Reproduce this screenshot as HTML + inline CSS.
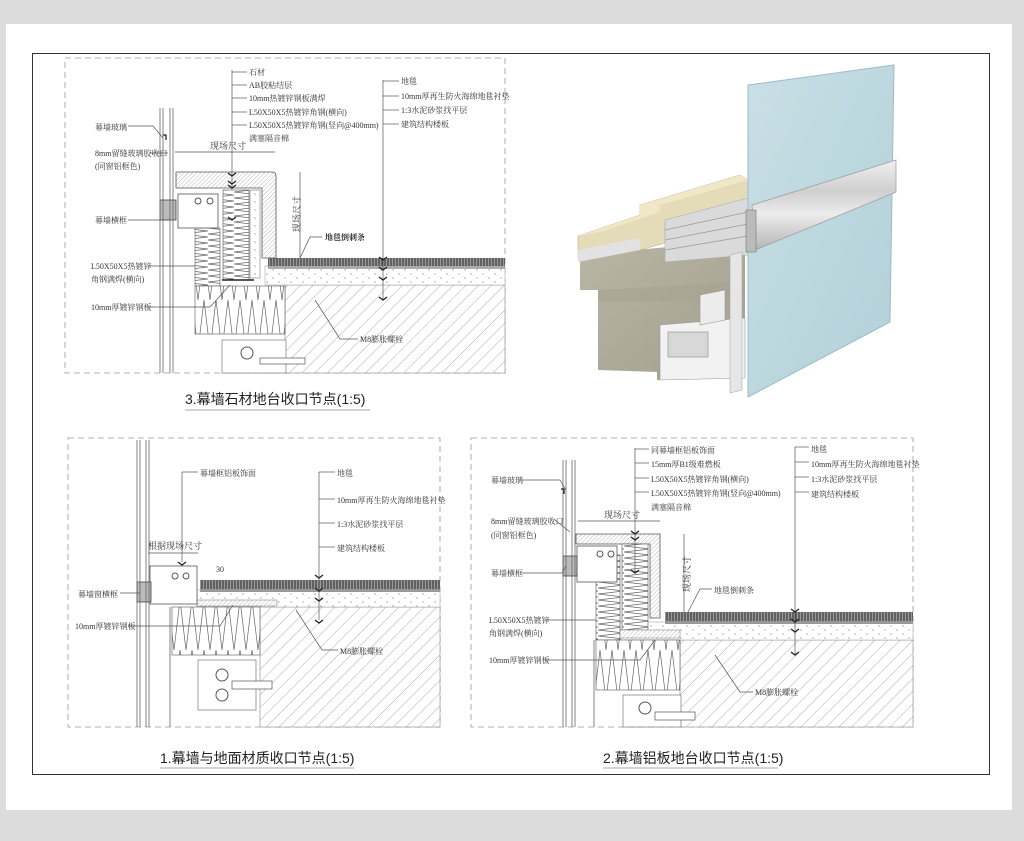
<!DOCTYPE html>
<html><head><meta charset="utf-8"><style>
html,body{margin:0;padding:0;background:#dcdcdc;width:1024px;height:841px;overflow:hidden}
svg{display:block}
text{font-family:"Liberation Serif","Noto Serif CJK SC","Noto Sans CJK SC",serif;fill:#333}
.s{font-size:8px}
.t{font-family:"Liberation Sans","Noto Sans CJK SC",sans-serif;font-size:14px;fill:#222}
</style></head><body>
<svg width="1024" height="841" viewBox="0 0 1024 841" xmlns="http://www.w3.org/2000/svg">
<defs>
<pattern id="hatch" width="9" height="9" patternUnits="userSpaceOnUse" patternTransform="rotate(45)"><rect width="9" height="9" fill="#fff"/><line x1="0" y1="0" x2="0" y2="9" stroke="#999" stroke-width="0.8"/></pattern>
<pattern id="fine" width="3" height="3" patternUnits="userSpaceOnUse" patternTransform="rotate(45)"><rect width="3" height="3" fill="#fff"/><line x1="0" y1="0" x2="0" y2="3" stroke="#888" stroke-width="0.6"/></pattern>
<pattern id="carpet" width="3" height="8" patternUnits="userSpaceOnUse"><rect width="3" height="8" fill="#999"/><line x1="1" y1="0" x2="1" y2="8" stroke="#333" stroke-width="1.1"/></pattern>
<pattern id="dots" width="12" height="8" patternUnits="userSpaceOnUse"><rect width="12" height="8" fill="#fff"/><circle cx="3" cy="2" r="0.6" fill="#777"/><circle cx="9" cy="6" r="0.6" fill="#777"/></pattern>
<pattern id="zig" width="26" height="6" patternUnits="userSpaceOnUse"><rect width="26" height="6" fill="#fff"/><polyline points="0,0 26,3 0,6" fill="none" stroke="#666" stroke-width="0.7"/></pattern>
<pattern id="zigv" width="12" height="50" patternUnits="userSpaceOnUse"><rect width="12" height="50" fill="#fff"/><polyline points="0,0 6,50 12,0" fill="none" stroke="#666" stroke-width="0.7"/></pattern>
<linearGradient id="glass" x1="0" y1="0" x2="1" y2="1"><stop offset="0" stop-color="#c8dfe5"/><stop offset="1" stop-color="#b2d0d8"/></linearGradient>
<linearGradient id="bar" x1="0" y1="0" x2="0" y2="1"><stop offset="0" stop-color="#f0f0f0"/><stop offset="0.35" stop-color="#cfcfcf"/><stop offset="0.6" stop-color="#ececec"/><stop offset="1" stop-color="#b4b4b4"/></linearGradient>
<linearGradient id="conc" x1="0" y1="0" x2="1" y2="1"><stop offset="0" stop-color="#b9b6a6"/><stop offset="1" stop-color="#a29f8e"/></linearGradient>
</defs>
<rect x="6" y="24" width="1006" height="786" fill="#fff"/>
<rect x="32.5" y="53.5" width="957" height="721" fill="none" stroke="#333" stroke-width="1"/>

<!-- ============ SECTION 3 ============ -->
<g stroke="#999" fill="none" stroke-dasharray="6,4" stroke-width="0.8"><rect x="65" y="58" width="440" height="315"/></g>
<rect x="285" y="285" width="220" height="88" fill="url(#hatch)" stroke="#888" stroke-width="0.6"/>
<rect x="265" y="266" width="240" height="19" fill="url(#dots)" stroke="#999" stroke-width="0.5"/>
<rect x="268" y="258" width="237" height="8" fill="url(#carpet)"/>
<rect x="268" y="266" width="237" height="3" fill="#aaa"/>
<path d="M176 172 H272 Q276 172 276 176 V258 H262 V188 H176 Z" fill="url(#fine)" stroke="#555" stroke-width="0.8"/>
<rect x="195" y="228" width="25" height="58" fill="url(#zig)" stroke="#555" stroke-width="0.6"/>
<rect x="223" y="190" width="26" height="90" fill="url(#zig)" stroke="#555" stroke-width="0.6"/>
<rect x="250" y="190" width="10" height="88" fill="url(#dots)" stroke="#777" stroke-width="0.6"/>
<line x1="222" y1="280" x2="254" y2="280" stroke="#222" stroke-width="1.6"/>
<rect x="195" y="286" width="90" height="48" fill="url(#zigv)" stroke="#555" stroke-width="0.6"/>
<rect x="178" y="194" width="40" height="34" fill="#fff" stroke="#555" stroke-width="0.8"/>
<circle cx="198" cy="201" r="3" fill="none" stroke="#555"/><circle cx="210" cy="201" r="3" fill="none" stroke="#555"/>
<rect x="160" y="200" width="16" height="20" fill="#bbb" stroke="#444" stroke-width="0.8"/>
<g stroke="#666" stroke-width="0.8"><line x1="160" y1="108" x2="160" y2="373"/><line x1="163" y1="108" x2="163" y2="373"/><line x1="170" y1="108" x2="170" y2="373"/><line x1="173" y1="108" x2="173" y2="373"/></g>
<rect x="222" y="340" width="64" height="33" fill="#fff" stroke="#777" stroke-width="0.7"/>
<circle cx="247" cy="353" r="6" fill="none" stroke="#555"/><rect x="260" y="358" width="45" height="6" fill="#fff" stroke="#555" stroke-width="0.7"/>
<g stroke="#555" stroke-width="0.7" fill="none">
<line x1="232" y1="70" x2="232" y2="190"/><line x1="232" y1="72" x2="247" y2="72"/><line x1="232" y1="85" x2="247" y2="85"/><line x1="232" y1="98" x2="247" y2="98"/><line x1="232" y1="112" x2="247" y2="112"/><line x1="232" y1="125" x2="247" y2="125"/>
<line x1="383" y1="80" x2="383" y2="300"/><line x1="383" y1="81" x2="399" y2="81"/><line x1="383" y1="96" x2="399" y2="96"/><line x1="383" y1="110" x2="399" y2="110"/><line x1="383" y1="124" x2="399" y2="124"/>
<polyline points="128,126 153,126 163,138"/><line x1="150" y1="153" x2="168" y2="153"/><line x1="128" y1="220" x2="170" y2="220"/><line x1="148" y1="266" x2="195" y2="266"/><polyline points="148,307 210,307 230,285"/>
<polyline points="358,339 340,339 315,300"/><polyline points="322,237 310,237 300,258"/>
<line x1="175" y1="152" x2="275" y2="152"/><line x1="300" y1="172" x2="300" y2="258"/>
</g>
<g stroke="#222" stroke-width="1.3" fill="none"><path d="M228 173 l4 3 4-3 M228 181 l4 3 4-3 M228 185 l4 3 4-3 M228 217 l4 3 4-3 M379 257 l4 3 4-3 M379 267 l4 3 4-3 M379 277 l4 3 4-3 M379 297 l4 3 4-3 M163 135 h3 v5"/></g>
<g class="s">
<text x="249" y="75">石材</text><text x="249" y="88">AB胶粘结层</text><text x="249" y="101">10mm热镀锌钢板满焊</text><text x="249" y="115">L50X50X5热镀锌角钢(横向)</text><text x="249" y="128">L50X50X5热镀锌角钢(竖向@400mm)</text><text x="249" y="141">满塞隔音棉</text>
<text x="401" y="84">地毯</text><text x="401" y="99">10mm厚再生防火海绵地毯衬垫</text><text x="401" y="113">1:3水泥砂浆找平层</text><text x="401" y="127">建筑结构楼板</text>
<text x="95" y="130">幕墙玻璃</text><text x="95" y="156">8mm留缝玻璃胶收口</text><text x="95" y="169">(同窗铝框色)</text><text x="95" y="223">幕墙横框</text>
<text x="91" y="269">L50X50X5热镀锌</text><text x="91" y="282">角钢满焊(横向)</text><text x="91" y="310">10mm厚镀锌钢板</text>
<text x="360" y="342">M8膨胀螺栓</text>
<text x="325" y="240" style="font-weight:bold">地毯倒刺条</text>
</g>
<text x="210" y="149" style="font-size:9px">现场尺寸</text>
<text transform="translate(300,232) rotate(-90)" style="font-size:9px">现场尺寸</text>
<text x="185" y="404" class="t">3.幕墙石材地台收口节点(1:5)</text>
<line x1="185" y1="410" x2="370" y2="410" stroke="#aaa"/>

<!-- ============ 3D VIEW ============ -->
<polygon points="580,255 745,240 745,378 657,380 657,372 598,370 598,290 580,290" fill="url(#conc)"/>
<polygon points="598,290 745,282 745,300 598,302" fill="#a7a493" opacity="0.6"/>
<polygon points="660,325 745,318 745,378 660,380" fill="#f2f2f2" stroke="#999" stroke-width="0.6"/>
<rect x="668" y="332" width="40" height="25" fill="#d8d8d8" stroke="#888" stroke-width="0.6"/>
<polygon points="700,295 725,290 725,320 700,325" fill="#ececec" stroke="#999" stroke-width="0.6"/>
<polygon points="578,236 640,215 640,205 740,175 748,180 748,200 665,222 665,243 640,250 578,258" fill="#e4dcb9" stroke="#bdb28e" stroke-width="0.6"/>
<polygon points="578,236 640,215 640,205 740,175 748,180 660,205 660,212 600,232" fill="#efe7c6"/>
<polygon points="578,250 640,238 640,250 578,262" fill="#e2e2e2"/>
<polygon points="665,220 748,198 748,255 665,262" fill="#dadada" stroke="#aaa" stroke-width="0.5"/>
<g stroke="#999" stroke-width="0.7"><line x1="665" y1="230" x2="748" y2="212"/><line x1="665" y1="240" x2="748" y2="224"/><line x1="665" y1="250" x2="748" y2="236"/></g>
<polygon points="730,255 742,252 742,390 730,393" fill="#e6e6e6" stroke="#aaa" stroke-width="0.6"/>
<polygon points="748,85 894,65 890,322 748,397" fill="url(#glass)" stroke="#9dbcc5" stroke-width="1"/>
<polygon points="752,205 896,160 896,192 755,250" fill="url(#bar)" stroke="#999" stroke-width="0.7"/>
<rect x="746" y="210" width="10" height="42" fill="#bbb" stroke="#777" stroke-width="0.6"/>

<!-- ============ SECTION 1 ============ -->
<g stroke="#999" fill="none" stroke-dasharray="6,4" stroke-width="0.8"><rect x="68" y="438" width="372" height="289"/></g>
<rect x="260" y="607" width="180" height="120" fill="url(#hatch)" stroke="#888" stroke-width="0.6"/>
<rect x="197" y="590" width="243" height="17" fill="url(#dots)" stroke="#999" stroke-width="0.5"/>
<rect x="200" y="580" width="240" height="9" fill="url(#carpet)"/>
<rect x="200" y="589" width="240" height="3" fill="#999"/>
<rect x="197" y="600" width="80" height="6" fill="url(#fine)" stroke="#777" stroke-width="0.5"/>
<rect x="172" y="607" width="88" height="48" fill="url(#zigv)" stroke="#555" stroke-width="0.6"/>
<rect x="150" y="566" width="47" height="38" fill="#fff" stroke="#555" stroke-width="0.8"/>
<circle cx="175" cy="576" r="3" fill="none" stroke="#555"/><circle cx="186" cy="576" r="3" fill="none" stroke="#555"/>
<rect x="137" y="582" width="14" height="20" fill="#bbb" stroke="#444" stroke-width="0.8"/>
<g stroke="#666" stroke-width="0.8"><line x1="137" y1="440" x2="137" y2="727"/><line x1="140" y1="440" x2="140" y2="727"/><line x1="146" y1="440" x2="146" y2="727"/><line x1="149" y1="440" x2="149" y2="727"/><line x1="170" y1="607" x2="170" y2="727"/></g>
<rect x="198" y="660" width="58" height="50" fill="#fff" stroke="#777" stroke-width="0.7"/>
<circle cx="222" cy="675" r="6" fill="none" stroke="#555"/><circle cx="222" cy="695" r="6" fill="none" stroke="#555"/>
<rect x="232" y="681" width="40" height="8" fill="#fff" stroke="#555" stroke-width="0.7"/>
<g stroke="#555" stroke-width="0.7" fill="none">
<line x1="182" y1="472" x2="182" y2="562"/><line x1="182" y1="472" x2="198" y2="472"/>
<line x1="319" y1="472" x2="319" y2="620"/><line x1="319" y1="472" x2="335" y2="472"/><line x1="319" y1="499" x2="335" y2="499"/><line x1="319" y1="523" x2="335" y2="523"/><line x1="319" y1="547" x2="335" y2="547"/>
<line x1="120" y1="593" x2="140" y2="593"/><polyline points="128,626 220,626 233,605"/><polyline points="338,650 322,650 296,610"/>
<line x1="148" y1="553" x2="198" y2="553"/>
</g>
<g stroke="#222" stroke-width="1.3" fill="none"><path d="M178 562 l4 3 4-3 M315 575 l4 3 4-3 M315 588 l4 3 4-3 M315 598 l4 3 4-3 M315 620 l4 3 4-3"/></g>
<g class="s">
<text x="200" y="476">幕墙框铝板饰面</text><text x="337" y="476">地毯</text><text x="337" y="503">10mm厚再生防火海绵地毯衬垫</text><text x="337" y="527">1:3水泥砂浆找平层</text><text x="337" y="551">建筑结构楼板</text>
<text x="78" y="597">幕墙窗横框</text><text x="75" y="629">10mm厚镀锌钢板</text><text x="340" y="654">M8膨胀螺栓</text>
<text x="216" y="572">30</text>
</g>
<text x="148" y="549" style="font-size:9px">根据现场尺寸</text>
<text x="160" y="763" class="t">1.幕墙与地面材质收口节点(1:5)</text>
<line x1="160" y1="768" x2="354" y2="768" stroke="#aaa"/>

<!-- ============ SECTION 2 ============ -->
<g stroke="#999" fill="none" stroke-dasharray="6,4" stroke-width="0.8"><rect x="471" y="438" width="442" height="289"/></g>
<rect x="680" y="640" width="233" height="87" fill="url(#hatch)" stroke="#888" stroke-width="0.6"/>
<rect x="620" y="622" width="293" height="18" fill="url(#dots)" stroke="#999" stroke-width="0.5"/>
<rect x="665" y="612" width="248" height="9" fill="url(#carpet)"/>
<rect x="665" y="621" width="248" height="3" fill="#999"/>
<path d="M576 534 H660 V618 H650 V544 H576 Z" fill="url(#fine)" stroke="#555" stroke-width="0.8"/>
<rect x="596" y="555" width="24" height="85" fill="url(#zig)" stroke="#555" stroke-width="0.6"/>
<rect x="622" y="544" width="26" height="86" fill="url(#zig)" stroke="#555" stroke-width="0.6"/>
<rect x="620" y="630" width="60" height="8" fill="url(#fine)" stroke="#777" stroke-width="0.5"/>
<rect x="596" y="640" width="84" height="50" fill="url(#zigv)" stroke="#555" stroke-width="0.6"/>
<rect x="577" y="546" width="40" height="36" fill="#fff" stroke="#555" stroke-width="0.8"/>
<circle cx="600" cy="554" r="3" fill="none" stroke="#555"/><circle cx="611" cy="554" r="3" fill="none" stroke="#555"/>
<rect x="563" y="556" width="14" height="20" fill="#bbb" stroke="#444" stroke-width="0.8"/>
<g stroke="#666" stroke-width="0.8"><line x1="563" y1="460" x2="563" y2="727"/><line x1="566" y1="460" x2="566" y2="727"/><line x1="572" y1="460" x2="572" y2="727"/><line x1="575" y1="460" x2="575" y2="727"/><line x1="594" y1="640" x2="594" y2="727"/></g>
<rect x="623" y="695" width="58" height="32" fill="#fff" stroke="#777" stroke-width="0.7"/>
<circle cx="645" cy="708" r="6" fill="none" stroke="#555"/><rect x="655" y="712" width="40" height="8" fill="#fff" stroke="#555" stroke-width="0.7"/>
<g stroke="#555" stroke-width="0.7" fill="none">
<line x1="635" y1="448" x2="635" y2="572"/><line x1="635" y1="449" x2="649" y2="449"/><line x1="635" y1="463" x2="649" y2="463"/><line x1="635" y1="478" x2="649" y2="478"/><line x1="635" y1="492" x2="649" y2="492"/>
<line x1="795" y1="447" x2="795" y2="655"/><line x1="795" y1="447" x2="809" y2="447"/><line x1="795" y1="462" x2="809" y2="462"/><line x1="795" y1="477" x2="809" y2="477"/><line x1="795" y1="492" x2="809" y2="492"/>
<polyline points="522,480 560,480 566,490"/><polyline points="555,520 570,532"/><polyline points="522,573 562,573 566,566"/><line x1="545" y1="620" x2="596" y2="620"/><polyline points="545,660 640,660 655,640"/>
<polyline points="753,692 740,692 715,655"/><polyline points="712,589 700,589 688,612"/>
<line x1="578" y1="521" x2="660" y2="521"/><line x1="684" y1="534" x2="684" y2="612"/>
</g>
<g stroke="#222" stroke-width="1.3" fill="none"><path d="M631 531 l4 3 4-3 M631 537 l4 3 4-3 M631 570 l4 3 4-3 M791 609 l4 3 4-3 M791 619 l4 3 4-3 M791 629 l4 3 4-3 M791 652 l4 3 4-3 M561 489 h3 v5"/></g>
<g class="s">
<text x="651" y="453">同幕墙框铝板饰面</text><text x="651" y="467">15mm厚B1级难燃板</text><text x="651" y="482">L50X50X5热镀锌角钢(横向)</text><text x="651" y="496">L50X50X5热镀锌角钢(竖向@400mm)</text><text x="651" y="510">满塞隔音棉</text>
<text x="811" y="452">地毯</text><text x="811" y="467">10mm厚再生防火海绵地毯衬垫</text><text x="811" y="482">1:3水泥砂浆找平层</text><text x="811" y="497">建筑结构楼板</text>
<text x="491" y="483">幕墙玻璃</text><text x="491" y="524">8mm留缝玻璃胶收口</text><text x="491" y="538">(同窗铝框色)</text><text x="491" y="576">幕墙横框</text>
<text x="489" y="623">L50X50X5热镀锌</text><text x="489" y="636">角钢满焊(横向)</text><text x="489" y="663">10mm厚镀锌钢板</text>
<text x="714" y="593">地毯倒刺条</text><text x="755" y="695">M8膨胀螺栓</text>
</g>
<text x="604" y="518" style="font-size:9px">现场尺寸</text>
<text transform="translate(690,592) rotate(-90)" style="font-size:9px">现场尺寸</text>
<text x="603" y="763" class="t">2.幕墙铝板地台收口节点(1:5)</text>
<line x1="603" y1="768" x2="778" y2="768" stroke="#aaa"/>
</svg>
</body></html>
